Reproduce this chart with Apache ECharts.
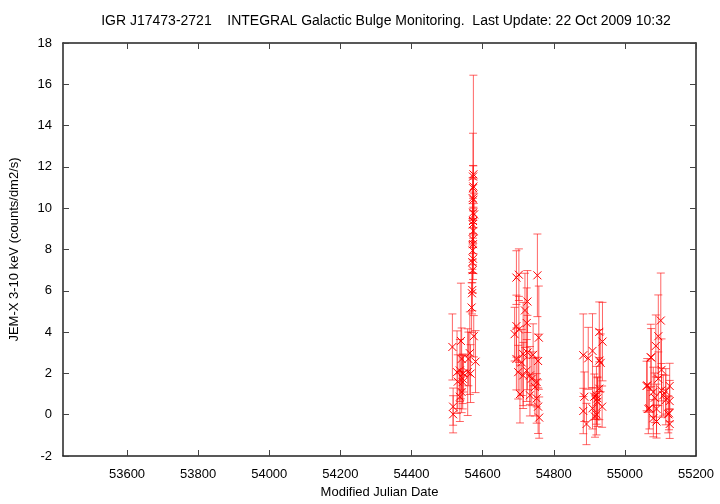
<!DOCTYPE html>
<html>
<head>
<meta charset="utf-8">
<script src="https://cdn.jsdelivr.net/npm/echarts@6/dist/echarts.min.js"></script>
<style>html,body{margin:0;padding:0;background:#fff}#c{width:720px;height:504px}</style>
</head>
<body>
<div id="c"></div>
<script>
const titleText = 'IGR J17473-2721    INTEGRAL Galactic Bulge Monitoring.  Last Update: 22 Oct 2009 10:32';
const xAxisName = 'Modified Julian Date';
const yAxisName = 'JEM-X 3-10 keV (counts/dm2/s)';
const xTicks = [53600, 53800, 54000, 54200, 54400, 54600, 54800, 55000, 55200];

const mjd = [
  54515,54517,54517,54528,54530,54536,54536,54539,54541,54541,54544,54544,54546,54558,54560,54564,54566,54580,54575,54569,54570,54571,54572,54571,54573,54572,54573,54572,54574,54572,54573,54576,54573,54574,54572,54573,54574,54573,54574,
  54695,54702,54754,54726,54719,54695,54702,54724,54758,54695,54714,54726,54710,54700,54714,54724,54733,54756,54752,54738,54733,54752,54756,54759,54747,54690,54705,54742,
  54883,54897,54909,54928,54937,54928,54932,54886,54883,54892,54909,54914,54920,54928,54923,54936,54916,54920,54923,
  55073,55061,55094,55087,55066,55101,55074,55103,55063,55126,55094,55080,55103,55084,55115,55126,55069,55089,55122,55124,55080,55089,55126,55115,55108
];
const flux = [
  3.28,0.39,0.02,2.06,1.6,2.14,0.87,3.57,2.7,1.1,1.74,1.58,2.0,2.06,2.7,2.98,1.99,2.57,3.8,5.19,5.88,6.04,7.0,7.39,7.55,7.95,8.26,8.5,8.9,9.22,9.38,9.7,9.78,10.41,10.49,10.97,11.05,11.53,11.64,
  6.64,6.78,6.75,5.48,5.05,4.29,4.13,4.44,3.73,2.7,2.94,3.01,2.53,2.06,1.9,2.14,1.9,2.6,1.58,1.74,0.94,0.79,0.39,-0.14,1.34,3.9,1.0,2.9,
  2.88,2.73,3.09,4.01,3.54,2.62,2.51,0.87,0.18,-0.45,0.31,0.87,0.94,1.26,0.63,0.39,-0.09,0.02,0.79,
  2.78,1.39,3.8,3.33,0.28,4.56,2.77,2.17,1.42,1.39,1.74,1.1,1.18,0.82,0.71,0.66,0.31,0.28,0.02,0.07,-0.17,-0.33,-0.45,1.13,0.94
];
const fluxErr = [
  1.6,0.9,0.9,2.0,1.3,1.5,1.2,2.8,1.5,1.0,1.2,1.3,0.9,2.1,1.3,2.0,1.4,1.5,1.0,1.2,1.0,1.0,1.1,1.0,1.0,1.1,1.0,1.0,1.1,1.0,1.1,1.0,1.0,1.0,1.0,1.1,1.0,2.1,4.8,
  1.3,1.25,2.0,1.5,1.8,1.5,1.6,1.7,2.5,1.5,2.5,1.8,1.6,1.3,1.6,1.5,1.4,1.3,1.2,1.3,1.0,1.2,1.3,1.0,1.4,1.3,1.4,1.5,
  2.0,1.5,1.8,1.45,1.9,1.5,1.4,1.2,1.1,1.0,1.0,1.1,1.4,1.5,1.2,1.0,1.0,1.0,1.0,
  1.6,1.2,2.0,1.5,1.2,2.3,1.4,1.5,1.3,1.1,1.3,1.2,1.3,1.2,1.2,1.0,1.0,1.2,0.9,0.8,0.9,0.8,0.7,1.1,1.0
];

const points = mjd.map((m, i) => [m, flux[i], fluxErr[i]]);
const chart = echarts.init(document.getElementById('c'), null, {renderer: 'canvas'});
const font = 'Liberation Sans, Arial, sans-serif';
const frame = {show: true, onZero: false, lineStyle: {color: '#222', width: 1.5}};
const tickStyle = {color: '#444', width: 1};

chart.setOption({
  animation: false,
  backgroundColor: '#fff',
  title: {text: titleText, left: 381, top: 9, textAlign: 'center',
    textStyle: {fontFamily: font, fontSize: 14, fontWeight: 'normal', color: '#000'}},
  grid: {left: 63, right: 24, top: 43, bottom: 42},
  xAxis: [{
    type: 'value', min: 53420, max: 55200, position: 'bottom',
    name: xAxisName, nameLocation: 'middle', nameGap: 30,
    nameTextStyle: {fontFamily: font, fontSize: 13, color: '#000'},
    axisLine: frame,
    axisTick: {show: true, inside: true, length: 6, customValues: xTicks, lineStyle: tickStyle},
    axisLabel: {customValues: xTicks, formatter: v => String(v), fontFamily: font, fontSize: 13, color: '#000', margin: 12},
    splitLine: {show: false}
  }, {
    type: 'value', min: 53420, max: 55200, position: 'top',
    axisLine: frame,
    axisTick: {show: true, inside: true, length: 6, customValues: xTicks, lineStyle: tickStyle},
    axisLabel: {show: false}, splitLine: {show: false}
  }],
  yAxis: [{
    type: 'value', min: -2, max: 18, interval: 2, position: 'left',
    name: yAxisName, nameLocation: 'middle', nameGap: 42, nameRotate: 90,
    nameTextStyle: {fontFamily: font, fontSize: 13, color: '#000'},
    axisLine: frame,
    axisTick: {show: true, inside: true, length: 6, lineStyle: tickStyle},
    axisLabel: {fontFamily: font, fontSize: 13, color: '#000', margin: 11},
    splitLine: {show: false}
  }, {
    type: 'value', min: -2, max: 18, interval: 2, position: 'right',
    axisLine: frame,
    axisTick: {show: true, inside: true, length: 6, lineStyle: tickStyle},
    axisLabel: {show: false}, splitLine: {show: false}
  }],
  series: [{
    type: 'custom', xAxisIndex: 0, yAxisIndex: 0, clip: true, data: points,
    encode: {x: 0, y: 1},
    renderItem: function (params, api) {
      const x = api.value(0), y = api.value(1), e = api.value(2);
      const t = api.coord([x, y + e]), b = api.coord([x, y - e]);
      const cw = 4;
      const st = {stroke: 'rgba(255,20,20,0.65)', lineWidth: 1};
      return {type: 'group', children: [
        {type: 'line', shape: {x1: t[0], y1: t[1], x2: b[0], y2: b[1]}, style: st},
        {type: 'line', shape: {x1: t[0] - cw, y1: t[1], x2: t[0] + cw, y2: t[1]}, style: st},
        {type: 'line', shape: {x1: b[0] - cw, y1: b[1], x2: b[0] + cw, y2: b[1]}, style: st}
      ]};
    }
  }, {
    type: 'custom', xAxisIndex: 0, yAxisIndex: 0, clip: true, data: points,
    encode: {x: 0, y: 1},
    renderItem: function (params, api) {
      const c = api.coord([api.value(0), api.value(1)]);
      const s = 4;
      const st = {stroke: '#ff0000', lineWidth: 1};
      return {type: 'group', children: [
        {type: 'line', shape: {x1: c[0] - s, y1: c[1] - s, x2: c[0] + s, y2: c[1] + s}, style: st},
        {type: 'line', shape: {x1: c[0] - s, y1: c[1] + s, x2: c[0] + s, y2: c[1] - s}, style: st}
      ]};
    }
  }]
});
</script>
</body>
</html>
